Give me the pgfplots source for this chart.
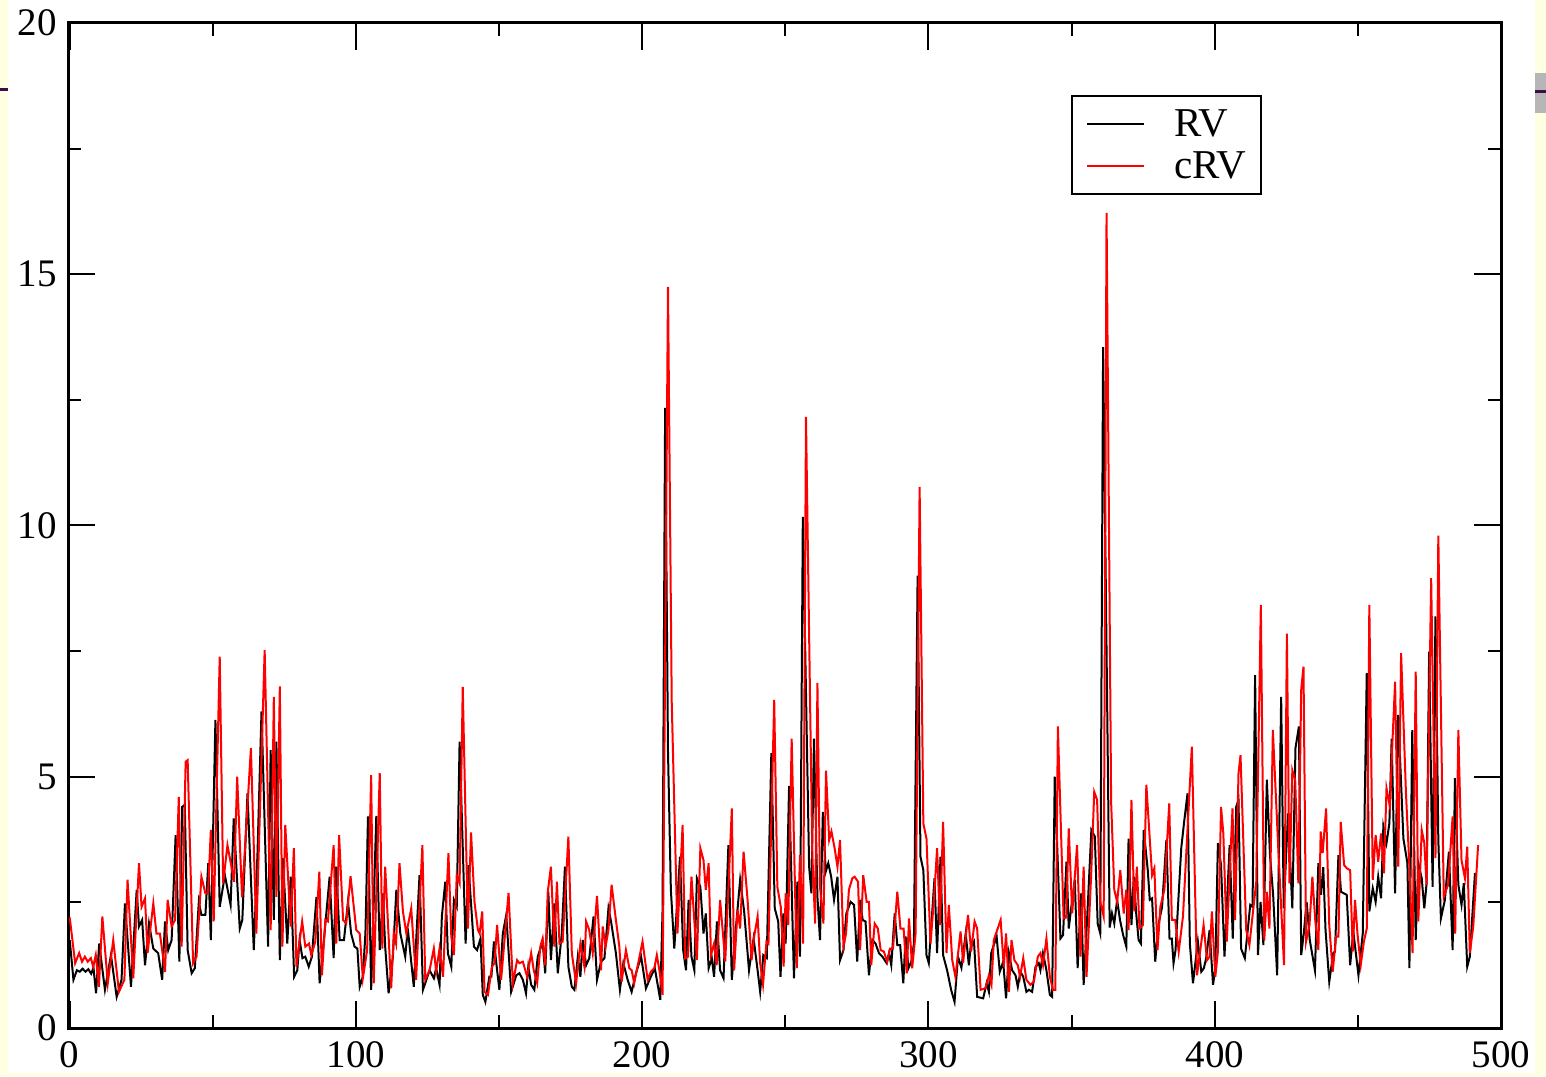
\documentclass[border=0pt]{standalone}
\usepackage{pgfplots}
\pgfplotsset{compat=1.18}
\usepackage{fontspec}
\setmainfont{Liberation Serif}
\definecolor{pageyellow}{RGB}{255,255,226}
\definecolor{edgepurple}{RGB}{62,12,72}
\definecolor{edgegray}{RGB}{182,182,182}

\begin{document}
\begin{tikzpicture}
% page background (units: 0.5pt, origin at the lower left corner of the plot frame)
\begin{scope}[x=0.5pt,y=0.5pt]
\fill[pageyellow] (-68,-48) rectangle (1478,1028);
\fill[white] (-60,-45) rectangle (1467,1028);
\fill[edgepurple] (-68,936.5) rectangle (-60,939.5);
\fill[edgegray] (1467,915) rectangle (1478,955);
\fill[edgepurple] (1467,935) rectangle (1478,938);
\end{scope}
\begin{axis}[
  at={(0,0)}, anchor=south west,
  scale only axis, width=716.5pt, height=502.5pt,
  xmin=-0.6, xmax=500, ymin=0, ymax=20,
  xtick={0,100,...,500}, ytick={0,5,...,20},
  minor xtick={50,150,...,450}, minor ytick={2.5,7.5,12.5,17.5},
  tick align=inside, major tick length=13.5pt, minor tick length=6.5pt,
  every tick/.style={black, line width=1pt},
  axis line style={line width=1.5pt},
  tick label style={font=\fontsize{19.5}{23}\selectfont},
  /pgf/number format/assume math mode=true,
  xticklabel style={yshift=-3pt},
  yticklabel style={xshift=-2pt},
  legend cell align=left,
  legend image code/.code={\draw[#1] (0pt,0pt) -- (28.5pt,0pt);},
  legend style={at={(0.700,0.928)}, anchor=north west, draw=black,
    line width=1pt, fill=white, font=\fontsize{20.5}{24}\selectfont,
    inner xsep=7pt, inner ysep=4.5pt, row sep=2pt,
    nodes={inner xsep=0.5pt, inner ysep=2pt},
    /tikz/every odd column/.append style={column sep=14pt}},
]
\addplot[black, line width=1pt] table {
0 1.75
1.3 0.96
2.5 1.15
3.5 1.12
4.5 1.18
5.5 1.12
6.5 1.17
7.5 1.08
8.3 1.2
9.2 0.69
10.3 1.68
12.3 0.76
14.4 1.45
16.4 0.62
18.1 0.96
19.3 2.48
21.4 0.82
23.4 2.75
24.2 2.02
25.3 2.15
26.3 1.25
27.7 2.08
29.2 1.58
30.9 1.49
32.3 0.96
33.3 2.12
34.4 1.55
35.6 1.75
37 3.84
38.3 1.32
39.3 4.4
40.2 4.44
41.2 1.55
42.6 1.09
43.7 1.19
45.1 2.51
46 2.25
47.4 2.25
48.4 3.28
49.3 1.75
50.9 6.13
52.4 2.41
54.2 3.04
56.2 2.45
57.3 4.17
59.4 1.98
60.3 2.15
62.1 4.67
64.3 1.55
65.6 3.48
67 6.3
69.3 1.62
70.2 5.53
71.3 2.15
72.2 5.7
73.4 1.35
74.5 3.38
76 1.68
77.2 3.01
78.4 1.02
79.5 1.15
80.3 1.75
81.3 1.39
82.3 1.42
83.5 1.22
84.6 1.42
86.2 2.61
87.3 0.89
88.8 1.75
90.8 3.01
92.2 1.39
93.1 3.21
94.3 1.75
95.8 1.75
97.2 2.51
98.3 1.88
99.5 1.62
100.5 1.58
101.3 0.82
102.4 1.02
103.3 1.88
104.2 4.21
105.3 0.76
107.1 4.22
108.3 1.55
109.4 2.68
110.2 1.62
111.4 0.69
112.9 1.42
114.1 2.75
115.5 1.88
117.2 1.42
118.1 1.98
120.2 0.82
122.2 3.04
123.4 0.76
124.2 0.89
125.7 1.15
127.2 0.99
128 1.19
129.2 0.86
130 2.22
131.2 2.91
132.1 1.49
133.3 1.22
134.2 2.55
135.2 2.41
136.2 5.7
138.3 1.68
139.3 3.24
141.2 1.62
142.3 1.55
143.5 1.78
144.3 0.66
145.2 0.52
146.6 1.02
147.3 1.02
148.2 1.72
149.3 1.15
150.1 0.76
151.3 1.88
152.5 2.25
154.2 0.72
156 1.05
157.1 1.09
158.3 0.96
159.4 0.69
160.2 1.22
161.2 0.86
162.3 0.76
163.5 1.42
165.2 1.72
166.1 1.09
167.2 2.71
168.1 1.35
169.3 2.48
170.5 1.09
171.9 1.88
173 3.21
174.2 1.22
175.4 0.82
176.3 0.76
177.5 1.42
178.4 1.02
179.2 1.75
180.4 1.25
181.5 1.39
183 2.22
184.2 0.96
185.6 1.32
186.8 1.39
188.2 2.38
189.1 2.12
190.8 1.49
192.2 0.76
193.4 1.29
194.9 0.96
196.3 0.72
197.8 1.09
199.6 1.42
201.3 0.79
203 1.02
204.4 1.19
206.3 0.56
207.1 2.35
208 12.34
209 5.5
210 2.75
211.2 1.58
213.2 3.41
214.3 1.55
215.3 1.15
216.2 2.55
217.2 1.42
218.2 1.15
219.1 2.98
220.3 2.81
221.4 1.88
222.2 2.28
223.2 1.19
224.3 1.39
225.1 1.02
226.1 2.12
227.2 1.15
228.4 0.99
230.1 3.64
231.3 0.96
232.7 1.98
234.2 2.95
235.6 2.32
237.3 1.15
238.9 1.78
240.3 1.15
241.2 0.72
242.3 1.45
243.5 1.39
245.1 5.47
246.3 2.38
247.5 2.12
248.3 1.02
249.3 2.28
250.1 1.68
251.3 4.82
253 0.99
254.2 2.91
255.1 1.42
256.1 10.17
258.3 3.21
259.1 2.68
260 5.76
261.2 2.61
262.1 1.75
263.1 4.3
264.1 3.11
265 3.28
266 3.01
267 2.55
268.2 3.01
269.1 1.35
270.3 1.55
271.3 2.28
272.8 2.51
274 2.45
275.1 1.32
276.1 2.55
277 2.15
278 2.12
279.2 1.05
280.4 1.75
281.5 1.68
282.7 1.49
283.9 1.42
285.4 1.29
286.2 1.49
287 1.25
288.2 2.28
289.1 1.65
290.1 1.65
291.2 0.89
292 1.82
293 1.19
294 1.32
294.9 1.68
296.2 9.0
297.2 3.41
298.2 3.14
299.3 1.45
300.1 1.29
302.1 2.98
303 1.49
304.2 3.41
305.1 1.45
306.5 1.15
307.9 0.76
309.1 0.52
310.3 1.42
311.5 1.2
313 1.88
314.1 1.25
314.7 1.6
315.9 1.72
317 0.62
319.1 0.59
320.3 0.89
321.1 0.72
321.9 1.49
323.8 1.82
324.9 1.12
326.1 1.32
327.1 0.59
328.1 1.49
329.2 1.15
330.4 1.05
331.2 0.82
332.1 1.12
333.1 1.02
334.2 0.72
335.1 0.76
336.2 0.72
337.4 1.22
338.5 1.29
339.1 1.15
340 1.49
341.2 1.15
342.4 0.66
343.2 0.62
344.1 5.0
346.1 1.78
347 1.85
348.2 3.31
349 1.98
349.9 2.41
351.1 2.95
352.1 1.19
353.3 2.68
354.2 0.86
355.4 2.15
356.9 3.94
358.1 3.81
359.1 2.08
360 1.88
361 13.55
363.3 2.0
364.1 2.28
364.9 2.08
365.9 2.55
366.9 2.15
368 1.85
369.1 1.62
369.9 3.77
370.9 2.05
371.7 3.01
372.6 2.25
373.4 1.75
374.2 1.68
375.2 3.94
376.6 3.14
377.3 2.55
378.1 2.58
379.2 1.32
380.4 2.08
381.6 2.41
383.1 3.74
384.2 1.78
385 1.78
385.6 1.29
386.3 1.55
388.3 3.58
389.3 4.1
390.5 4.67
391.3 1.68
392.4 0.89
394.1 1.72
395.3 1.12
396.2 1.19
397 1.39
398.2 1.95
399.4 0.86
400.2 1.19
401.1 3.68
402.2 3.24
403.4 1.42
405.2 3.64
406.3 1.78
407.5 4.4
408.3 4.54
409.2 1.58
410.5 1.39
411.3 1.82
412.4 2.45
413.2 2.41
414.1 7.02
415.1 1.45
416 2.51
417 1.65
418.2 4.94
419.3 3.44
420.4 2.65
421.8 1.05
423.2 6.59
424.1 2.38
425.6 4.27
427.1 2.38
428.2 5.57
429.4 6.0
430.2 1.45
431.1 1.88
432.1 2.51
433.2 1.75
435 1.15
436.2 3.28
437.1 2.65
437.9 3.2
438.7 1.95
440 0.92
441.4 1.49
442 1.52
443.2 3.44
444.1 2.71
446.1 2.65
447.3 1.25
448.4 1.92
450.2 1.05
451.7 1.88
453.1 7.06
454 2.32
455.2 2.78
456.2 2.51
457.1 3.01
458.1 2.58
458.9 4.01
460 3.68
461 4.07
461.8 5.76
463 2.68
464.1 6.23
465.9 3.77
467.3 3.28
468 1.19
469 5.93
470.2 1.75
471.1 3.28
472.3 2.98
473.2 2.38
474 2.88
474.9 7.49
476.1 2.81
477.1 8.19
478.1 3.74
479 2.18
480.4 2.55
481.8 3.51
483.1 1.55
483.9 4.97
485.1 2.85
486.2 2.45
487 2.88
488.2 1.22
489.1 1.42
490.9 3.08
};
\addlegendentry{RV}
\addplot[red, line width=1pt] table {
0 2.2
1.9 1.29
3.3 1.49
4.3 1.32
5.3 1.42
6.3 1.32
7.4 1.39
8.2 1.22
9.1 1.45
10.2 0.82
11.4 2.22
13.3 0.89
15.2 1.75
17.2 0.72
19.1 0.96
20.2 2.95
22.2 0.99
24.2 3.28
25.1 2.41
26.3 2.58
27.2 1.49
29.2 2.48
30.3 1.88
31.5 1.88
33.3 1.12
34.2 2.55
35.6 2.02
36.8 2.15
38.1 4.6
39.1 1.62
40.5 5.3
41.2 5.33
43.1 1.29
44.3 1.42
46 3.01
47.4 2.68
48.3 2.68
49.3 3.94
50.3 2.12
52.4 7.39
53.6 2.88
55.1 3.64
56.5 3.21
57.4 2.91
58.5 5.0
60.2 2.6
63.3 5.57
65.2 1.88
68.1 7.52
70.2 1.95
71.3 6.59
72.2 2.61
73.4 6.8
74.3 1.62
75.3 4.04
77.2 2.02
78.3 3.58
79.2 1.22
81.2 2.12
82.3 1.62
83.6 1.68
84.4 1.45
85.8 1.72
87.2 3.11
88.1 1.05
89.3 2.15
90.2 2.12
92.2 3.64
93.1 1.68
94.1 3.84
95.5 2.15
96.6 2.08
98.1 3.02
100.1 1.95
101.3 1.88
102.4 0.99
103.9 1.55
105.3 5.03
106.2 0.89
108.3 5.07
109.2 1.58
110.2 3.21
112.3 0.79
113.2 1.88
114 1.68
115.2 3.28
116.4 2.32
117.6 1.88
119.3 2.38
121 0.96
123.2 3.64
124.2 0.96
125.7 1.15
127.2 1.58
128 1.12
129.2 1.58
130.4 1.02
132.3 3.48
133.3 1.82
134.2 1.45
135.2 3.04
136.2 2.88
137.3 6.79
139.1 1.98
140.2 3.89
141.4 2.51
142.6 1.95
143.2 1.88
144.1 2.32
144.9 0.72
146.1 0.66
147.5 1.22
148.4 1.29
149.3 2.05
150.7 0.96
153.3 2.69
154.8 0.89
156.3 1.35
157.1 1.29
158.3 1.32
159.8 1.02
161.2 1.49
162.1 1.15
163.3 0.89
164.4 1.62
165.2 1.78
166.1 1.25
167 2.71
168.1 3.21
169.3 1.62
170.2 2.91
171.1 1.68
172.2 1.72
174.2 3.81
175.4 1.49
176.9 0.89
178.4 1.68
179.8 1.22
180.4 2.12
181.5 1.95
182.7 1.49
184.2 2.63
185.6 1.15
186.2 2.02
187.2 1.62
188.2 1.95
189.3 2.85
190.8 2.15
192 1.62
192.8 0.92
194.3 1.55
195.5 1.19
196.3 1.15
197.2 0.89
200.1 1.72
201.9 0.96
203 1.12
204.2 1.19
205.1 1.45
206 1.15
207.1 0.66
209 14.75
210.3 6.5
212.3 1.88
214.1 4.04
215 1.39
216 1.42
217.2 3.01
219.1 1.35
220.3 3.58
221.4 3.34
222.2 2.75
223.2 3.28
224 1.45
225.1 1.68
226 1.25
227.2 2.55
229 1.32
231.3 4.37
232.1 1.15
233.3 2.35
234.2 1.98
235.4 3.51
236.8 2.55
238.2 1.35
239.1 1.82
240.3 2.22
241.2 1.29
242.2 0.86
243.4 1.72
244.1 1.68
246.1 6.53
247.2 2.81
248.4 2.41
249.4 1.22
250.1 2.68
251 2.05
252.2 5.76
254 1.19
255.1 3.44
256.2 1.68
257.2 12.16
259.4 3.48
260.4 2.08
261.2 6.87
262.1 2.81
263.3 2.08
264.2 5.12
265.3 3.74
266.1 3.91
267.2 3.58
268.2 3.21
269.1 3.74
270.3 1.62
271.2 1.88
272.2 2.75
273.4 2.98
274.2 3.01
275.4 2.91
276.1 1.55
277.2 3.04
278.4 2.51
279.2 2.51
280 1.25
281.2 2.08
282.3 1.98
283.3 1.55
284.4 1.52
285.6 1.32
286.6 1.58
287.6 1.58
289.1 2.71
290.2 1.98
291.3 1.98
292.4 1.09
293.2 2.18
294.3 1.19
295.5 1.88
296.9 10.77
298.2 4.07
299.3 3.77
300.7 1.68
301.9 2.55
303 3.58
304 2.05
305.1 4.1
306.3 1.49
307.1 2.45
308.3 1.35
309.4 1.02
311.2 1.92
312.1 1.3
313.8 2.25
314.9 1.52
316.1 2.12
317 1.98
318.2 0.76
319.9 0.79
321.1 1.05
322 0.86
322.8 1.75
324 1.95
325.2 2.15
326.3 1.22
327.1 1.88
328.1 0.72
329 1.75
330 1.35
331.2 1.25
332 1.02
333.1 1.39
334.2 0.96
335.6 0.86
336.8 0.92
338.2 1.42
339.1 1.49
340 1.25
341.2 1.78
342.4 1.02
343.5 0.76
344.3 0.76
345.2 6.0
347.2 2.18
348.1 2.2
349 3.97
350.2 2.28
351.9 3.64
353.1 1.42
354.2 3.21
355.2 1.02
356.8 3.01
357.9 4.7
358.9 4.54
360 2.51
361.2 2.22
362.2 16.22
363.8 4.5
364.9 2.75
365.9 2.51
367 3.14
368.2 2.28
369.1 2.75
369.9 1.95
370.9 4.54
371.9 2.32
372.8 3.21
373.7 1.98
374.9 2.05
376.1 4.84
378.1 3.04
378.9 3.18
380 1.55
381 2.41
382.4 2.75
384.1 4.47
385 2.15
386.2 2.15
387.4 1.52
388.9 2.22
392 5.6
393.8 1.05
396.1 2.05
397.3 1.35
398.2 1.42
399 2.32
400.2 1.02
401.1 1.52
402.2 4.4
403 3.87
404.2 1.72
406.2 4.37
407.1 2.15
408.3 5.07
409 5.43
411 1.95
412.1 1.65
414.5 2.91
416.1 8.42
417.3 1.75
418.2 2.71
419.1 1.98
420.3 5.93
422.3 3.44
424.2 1.25
425.2 7.85
426.1 2.88
427.1 5.13
428.1 4.94
429.2 2.88
430.2 6.73
431 7.19
431.9 1.72
433.1 2.05
434.1 3.01
435.1 2.15
436.2 1.55
437 3.91
437.7 3.48
438.9 4.37
440 2.05
441.2 1.12
442.4 1.82
443.2 1.82
444 4.1
445.2 3.24
446.1 3.18
447.3 3.14
448.2 1.52
449 2.55
449.9 1.85
451 1.25
452.1 1.72
453.1 1.98
454 8.42
455.2 2.95
456.2 3.84
457.1 3.31
458.1 3.87
459.1 3.08
460 4.77
461.2 4.4
462.1 5.73
463 6.89
464.1 3.21
465.1 7.46
466.8 4.67
468 3.21
469.1 1.49
470.2 7.09
471.1 2.12
472.3 3.94
473.2 3.68
474 2.85
475.6 8.95
477.1 3.38
478.1 9.8
480 2.61
481.5 2.85
483.1 4.21
484 1.88
485.1 5.93
486.2 3.34
487.4 2.98
488.2 3.61
489.1 1.49
490.3 2.02
492 3.64
};
\addlegendentry{cRV}
\end{axis}
\end{tikzpicture}
\end{document}
